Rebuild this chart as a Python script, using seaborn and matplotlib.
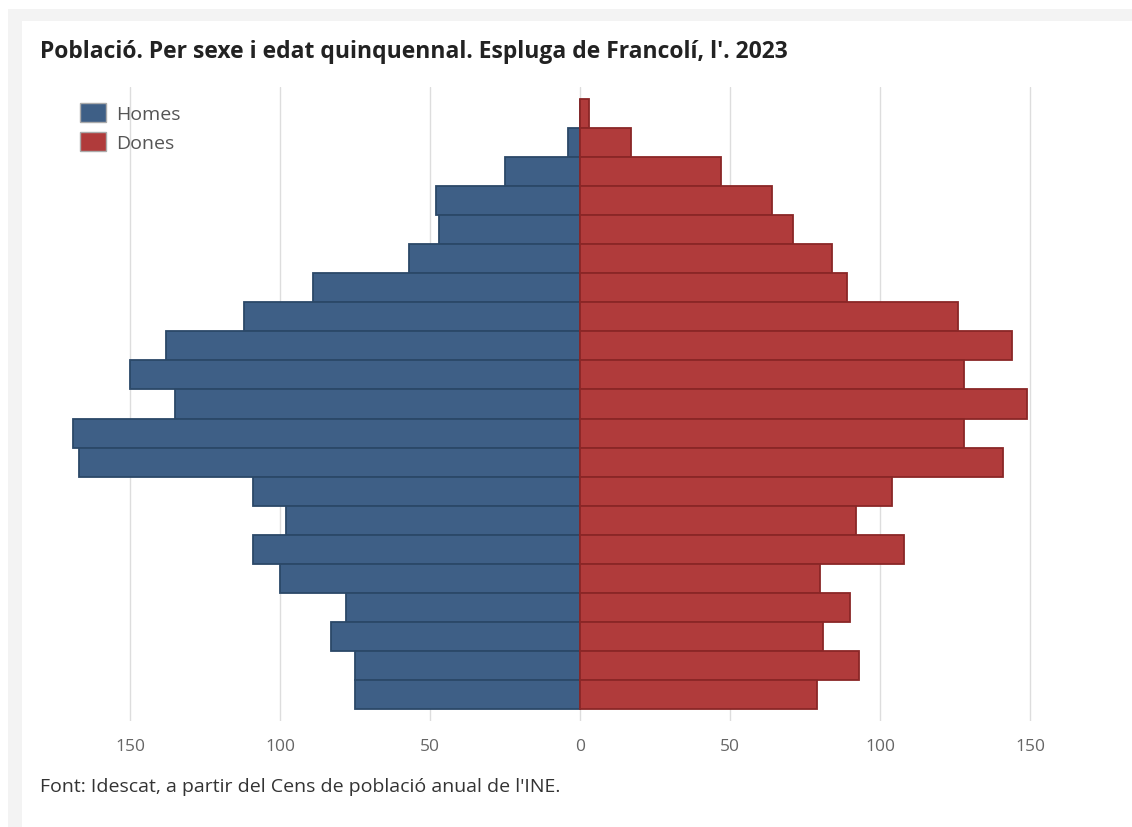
import matplotlib
matplotlib.use("Agg")
import matplotlib.pyplot as plt
from matplotlib.patches import Patch, Rectangle
from matplotlib.ticker import FuncFormatter, FixedLocator
import seaborn as sns
import pandas as pd

# Age groups, from the youngest to the oldest
age_groups = ["0-4", "5-9", "10-14", "15-19", "20-24", "25-29", "30-34", "35-39",
              "40-44", "45-49", "50-54", "55-59", "60-64", "65-69", "70-74",
              "75-79", "80-84", "85-89", "90-94", "95-99", "100+"]
homes = [75, 75, 83, 78, 100, 109, 98, 109, 167, 169, 135, 150, 138, 112, 89,
         57, 47, 48, 25, 4, 0]
dones = [79, 93, 81, 90, 80, 108, 92, 104, 141, 128, 149, 128, 144, 126, 89,
         84, 71, 64, 47, 17, 3]
x_ticks = [-150, -100, -50, 0, 50, 100, 150]

title = "Població. Per sexe i edat quinquennal. Espluga de Francolí, l'. 2023"
source = "Font: Idescat, a partir del Cens de població anual de l'INE."

order = age_groups[::-1]
df = pd.DataFrame({"edat": age_groups,
                   "Homes": [-v for v in homes],
                   "Dones": dones})

sns.set_theme(style="white")
plt.rcParams["font.family"] = ["Open Sans", "DejaVu Sans"]

W, H = 1132, 828
fig = plt.figure(figsize=(W / 100, H / 100), dpi=100)
fig.patch.set_facecolor("white")
fig.patches.append(Rectangle((8 / W, 0), 1, 1 - 10 / H, transform=fig.transFigure,
                             facecolor="#f3f3f3", edgecolor="none", zorder=-2))
fig.patches.append(Rectangle((22 / W, 0), 1, 1 - 22 / H, transform=fig.transFigure,
                             facecolor="white", edgecolor="none", zorder=-1))

ax_l, ax_r = 60, 1060
ax_t, ax_b = 88, 722
ax = fig.add_axes([ax_l / W, 1 - ax_b / H, (ax_r - ax_l) / W, (ax_b - ax_t) / H])
ax.set_facecolor("none")

blue, blue_edge = "#3e5f86", "#2b4868"
red, red_edge = "#b03b3b", "#8a2626"

sns.barplot(data=df, y="edat", x="Homes", order=order, orient="h", color=blue,
            width=1.0, edgecolor=blue_edge, linewidth=1.3, saturation=1, ax=ax, zorder=3)
sns.barplot(data=df, y="edat", x="Dones", order=order, orient="h", color=red,
            width=1.0, edgecolor=red_edge, linewidth=1.3, saturation=1, ax=ax, zorder=3)

px_per_unit = 3.0
ax.set_xlim((ax_l - 580) / px_per_unit, (ax_r - 580) / px_per_unit)
row_px = (710 - 100) / 21
ax.set_ylim(20.5 + (ax_b - 710) / row_px, -0.5 - (100 - ax_t) / row_px)

ax.xaxis.set_major_locator(FixedLocator(x_ticks))
ax.xaxis.set_major_formatter(FuncFormatter(lambda v, p: f"{abs(int(v))}"))
ax.grid(axis="x", color="#dddddd", linewidth=1.0, zorder=0)
ax.grid(axis="y", visible=False)
ax.set_yticks([])
ax.set_xlabel("")
ax.set_ylabel("")
for s in ax.spines.values():
    s.set_visible(False)
ax.tick_params(axis="x", length=0, pad=12, labelsize=12.5, labelcolor="#666666")

fig.text(40 / W, 1 - 52 / H, title, fontsize=16.5, fontweight="bold", color="#222222",
         ha="left", va="center")
fig.text(40 / W, 1 - 787 / H, source, fontsize=14, color="#333333",
         ha="left", va="center")

handles = [Patch(facecolor=blue, edgecolor="#aaaaaa", label="Homes"),
           Patch(facecolor=red, edgecolor="#aaaaaa", label="Dones")]
leg = ax.legend(handles=handles, loc="upper left",
                bbox_to_anchor=((80 - ax_l) / (ax_r - ax_l), 1 - (104 - ax_t) / (ax_b - ax_t)),
                frameon=False, fontsize=14, handlelength=1.35, handleheight=1.15,
                handletextpad=0.5, labelspacing=0.45, borderaxespad=0, borderpad=0)
for t in leg.get_texts():
    t.set_color("#555555")

fig.savefig("out.png", dpi=100, facecolor=fig.get_facecolor())
